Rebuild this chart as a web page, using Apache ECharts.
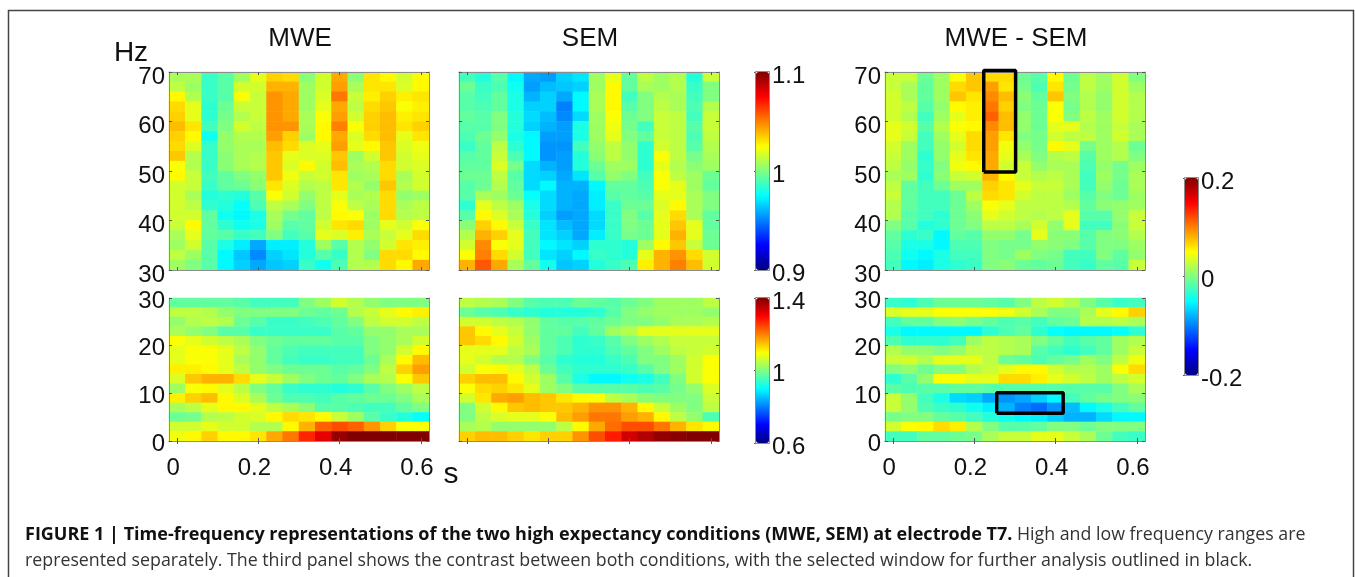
<!DOCTYPE html>
<html>
<head>
<meta charset="utf-8">
<title>Time-frequency representations</title>
<script src="https://cdn.jsdelivr.net/npm/echarts@6/dist/echarts.min.js"></script>
<style>
  html, body { margin: 0; padding: 0; background: #fff; }
  #chart { width: 1355px; height: 577px; }
</style>
</head>
<body>
<div id="chart"></div>
<script>
// Time labels shared by all panels (one column every 0.04 s)
const times = ['0', '0.04', '0.08', '0.12', '0.16', '0.2', '0.24', '0.28', '0.32', '0.36', '0.4', '0.44', '0.48', '0.52', '0.56', '0.6'];
const highRows = ['70', '68', '66', '64', '62', '60', '58', '56', '54', '52', '50', '48', '46', '44', '42', '40', '38', '36', '34', '32'];
const lowRows = ['30', '28', '26', '24', '22', '20', '18', '16', '14', '12', '10', '8', '6', '4', '2'];

// Colour bar ranges and their tick labels
const rangeHigh = [0.9, 1.1];
const rangeLow = [0.6, 1.4];
const rangeDiff = [-0.2, 0.2];
const ticksHigh = [0.9, 1, 1.1];
const ticksLow = [0.6, 1, 1.4];
const ticksDiff = [-0.2, 0, 0.2];

// First row is the top of the panel.
const mweHigh = [
  [54,54,43,46,53,60,67,66,51,58,71,51,65,63,58,63],
  [56,53,43,46,58,58,70,70,53,58,72,54,65,65,59,63],
  [63,55,43,46,62,57,73,71,53,59,76,57,64,67,64,65],
  [66,60,42,48,57,57,73,71,53,60,71,56,66,68,62,64],
  [67,60,42,49,55,57,73,71,54,62,72,58,67,69,64,65],
  [69,65,44,50,58,56,73,73,54,63,75,62,67,69,65,67],
  [67,63,39,52,55,55,72,67,53,63,71,59,66,69,60,65],
  [66,59,43,52,54,54,69,66,59,60,72,60,63,68,59,61],
  [68,55,43,51,54,55,68,60,59,59,68,53,58,68,58,60],
  [62,55,43,51,54,55,68,59,63,58,69,54,55,66,58,59],
  [63,57,44,47,50,52,68,61,57,58,65,53,54,66,54,58],
  [58,57,43,47,48,51,65,59,55,56,65,55,52,68,55,58],
  [58,54,41,42,41,46,62,58,52,56,60,54,55,66,52,53],
  [58,56,42,41,38,45,56,54,50,56,62,56,54,66,54,56],
  [58,58,47,39,37,40,54,49,47,56,63,62,53,66,55,56],
  [57,63,47,42,39,40,53,46,47,58,65,66,53,60,58,62],
  [54,60,47,46,43,44,50,44,46,60,59,64,54,57,60,66],
  [53,58,46,40,36,29,36,36,41,53,46,55,52,58,65,64],
  [56,53,46,37,32,26,33,35,41,46,43,55,50,66,66,63],
  [53,50,46,37,33,29,32,33,43,39,45,55,55,66,63,71]
];
const semHigh = [
  [44,41,46,37,29,28,33,35,53,60,47,56,53,55,41,57],
  [48,43,45,39,28,31,32,33,53,63,47,54,53,55,43,50],
  [46,44,47,40,30,33,29,37,54,63,44,50,55,54,44,50],
  [46,45,47,40,33,33,25,37,54,63,46,50,56,54,45,55],
  [47,46,50,41,34,31,26,34,53,62,48,50,57,56,44,57],
  [46,46,50,41,33,30,28,40,53,61,49,44,57,56,46,57],
  [45,48,52,40,37,28,28,40,53,60,50,47,57,56,45,56],
  [43,47,56,42,37,27,27,44,52,56,52,42,58,56,46,55],
  [46,47,57,45,37,27,28,41,51,56,52,42,62,56,49,54],
  [47,47,59,49,34,30,28,41,48,53,53,42,60,55,51,53],
  [48,48,56,46,34,33,29,35,46,52,50,44,62,56,53,48],
  [46,48,55,47,34,37,30,30,37,47,47,45,62,60,53,47],
  [46,54,53,48,38,34,30,29,36,46,47,46,60,60,54,50],
  [42,60,56,53,40,34,30,29,36,43,48,48,59,63,54,50],
  [46,63,59,54,41,33,28,29,34,43,50,46,60,66,54,47],
  [51,67,63,57,43,35,31,29,34,43,50,48,60,68,60,47],
  [55,70,67,60,44,35,33,29,36,43,49,48,60,70,60,48],
  [58,74,62,60,44,37,35,33,42,42,41,53,63,68,57,48],
  [62,75,66,58,44,35,33,37,43,42,41,60,70,73,66,58],
  [70,79,71,54,47,39,32,33,41,43,45,64,70,75,69,58]
];
const diffHigh = [
  [57,57,48,53,62,68,66,66,48,46,63,48,56,53,58,50],
  [57,54,47,53,66,68,72,65,49,45,65,49,56,53,58,53],
  [58,54,47,53,68,65,74,69,51,47,68,50,55,52,58,55],
  [58,56,46,52,63,64,76,67,50,48,62,49,55,52,58,55],
  [58,55,44,53,60,64,78,69,52,48,62,50,56,53,58,55],
  [60,58,46,55,62,63,74,69,52,48,60,60,55,53,57,54],
  [60,57,44,53,60,66,72,65,50,49,58,56,56,53,58,54],
  [58,53,44,52,58,66,72,61,52,49,63,60,49,53,55,48],
  [57,53,42,52,60,65,71,60,54,50,55,56,46,53,55,50],
  [56,52,43,50,61,63,71,58,57,52,54,54,45,52,49,53],
  [54,53,42,51,57,58,70,63,57,55,56,54,44,53,49,54],
  [56,47,44,48,53,53,67,65,60,57,57,54,44,52,48,54],
  [57,47,44,44,48,56,66,65,58,56,56,53,46,50,48,53],
  [55,47,44,44,48,53,62,60,56,56,56,55,47,51,52,53],
  [55,46,44,42,48,51,60,58,56,55,56,60,46,46,52,57],
  [50,46,41,42,48,50,56,56,54,58,52,60,44,44,51,57],
  [47,42,43,37,47,46,52,52,49,60,51,51,46,50,51,55],
  [46,40,40,37,45,45,50,49,49,52,51,50,46,50,50,53],
  [45,39,37,40,44,44,50,49,53,50,49,44,44,50,47,52],
  [44,37,36,40,42,43,50,51,48,47,48,44,43,47,46,57]
];
const mweLow = [
  [47,47,47,47,46,44,44,44,50,53,58,55,52,50,50,50],
  [56,56,55,52,50,50,50,50,48,47,48,55,57,60,63,64],
  [52,55,56,55,48,46,43,43,44,45,47,50,56,58,58,56],
  [54,52,50,46,46,43,43,43,43,43,46,47,52,52,54,54],
  [62,60,58,56,54,50,48,47,47,47,46,46,50,52,54,58],
  [60,62,62,60,56,52,47,45,44,44,44,44,50,52,58,63],
  [60,62,62,60,54,52,47,44,43,43,44,44,48,54,63,69],
  [64,64,63,60,56,52,50,48,48,48,46,47,50,56,67,72],
  [59,68,70,70,66,60,57,53,50,48,47,50,54,55,62,68],
  [53,62,63,60,56,50,47,43,42,42,41,42,46,50,53,56],
  [64,67,69,63,59,54,48,45,45,44,46,47,48,48,50,54],
  [54,56,60,63,63,60,56,54,51,46,46,45,44,44,47,50],
  [48,49,55,56,58,59,63,66,65,63,57,53,46,43,41,38],
  [58,58,60,58,58,55,55,63,70,78,80,78,73,67,62,62],
  [61,63,67,63,63,65,71,76,84,90,98,100,100,100,100,100]
];
const semLow = [
  [56,55,54,50,46,45,45,48,47,46,48,50,53,53,53,56],
  [48,46,45,43,42,41,41,41,42,46,50,52,53,53,53,52],
  [58,58,56,55,52,47,46,46,47,48,50,50,52,54,54,55],
  [68,63,60,57,52,47,47,44,47,53,55,60,60,60,60,60],
  [68,66,63,58,53,47,45,42,43,46,50,53,55,57,57,57],
  [60,60,60,56,54,47,45,42,42,45,47,50,53,56,57,58],
  [60,58,55,55,50,46,42,41,41,43,45,50,50,53,58,62],
  [58,62,63,60,56,48,44,42,42,42,43,46,50,53,58,62],
  [67,69,69,63,58,53,46,40,37,37,39,40,44,50,58,62],
  [62,66,67,65,60,53,50,46,46,46,46,45,46,49,52,59],
  [58,65,71,72,69,68,65,63,62,56,54,51,50,50,50,57],
  [50,58,63,68,69,68,68,70,73,73,70,63,57,53,50,56],
  [50,56,59,60,60,62,69,72,76,76,72,70,63,56,52,45],
  [54,55,52,52,52,52,56,63,71,77,80,80,76,70,65,63],
  [67,69,69,67,65,67,67,73,80,85,92,95,98,99,100,100]
];
const diffLow = [
  [43,42,45,48,48,48,47,46,50,56,58,55,50,46,43,44],
  [59,60,60,62,62,62,62,61,58,54,50,50,54,60,63,67],
  [44,47,47,50,51,49,47,45,46,44,47,48,55,55,56,54],
  [40,37,37,37,37,37,42,45,47,42,38,37,37,37,38,42],
  [45,42,42,42,44,53,56,55,54,50,47,44,46,47,53,55],
  [55,52,52,50,52,56,56,55,54,46,44,42,44,47,53,57],
  [57,58,55,60,60,60,56,48,47,45,47,49,53,50,56,61],
  [50,52,48,50,50,55,57,60,63,63,58,55,55,53,62,66],
  [42,46,52,62,62,60,60,66,66,64,60,58,56,53,56,58],
  [46,45,46,46,47,47,46,46,46,46,46,46,46,46,50,54],
  [57,52,44,40,34,33,29,27,29,33,37,44,47,49,50,51],
  [57,52,45,43,42,39,36,30,25,23,27,31,37,40,44,47],
  [49,50,50,47,46,44,41,39,37,36,33,30,30,34,37,37],
  [58,62,63,66,64,55,50,46,46,47,50,50,48,50,50,50],
  [44,44,47,47,48,49,54,57,57,60,60,57,54,48,44,43]
];

// Selected analysis windows: [time, Hz] corners
const windowHigh = [[0.223, 49.8], [0.223, 70.3], [0.3015, 70.3], [0.3015, 49.8], [0.223, 49.8]];
const windowLow = [[0.255, 5.8], [0.255, 10.1], [0.4186, 10.1], [0.4186, 5.8], [0.255, 5.8]];

const jet = ['#000080', '#0000ff', '#0080ff', '#00ffff', '#80ff80', '#ffff00', '#ff8000', '#ff0000', '#800000'];
const axisGrey = '#8c8c8c';
const labelFont = 'Liberation Sans';

const panels = [
  { left: 169, top: 72, height: 198, rows: highRows, values: mweHigh, range: rangeHigh, hz: [30, 70], yLabels: true, xLabels: false, labelDrop: 5 },
  { left: 459, top: 72, height: 198, rows: highRows, values: semHigh, range: rangeHigh, hz: [30, 70], yLabels: false, xLabels: false, labelDrop: 5 },
  { left: 885, top: 72, height: 198, rows: highRows, values: diffHigh, range: rangeDiff, hz: [30, 70], yLabels: true, xLabels: false, labelDrop: 5, box: windowHigh },
  { left: 169, top: 298, height: 143, rows: lowRows, values: mweLow, range: rangeLow, hz: [0, 30], yLabels: true, xLabels: true, labelDrop: 3 },
  { left: 459, top: 298, height: 143, rows: lowRows, values: semLow, range: rangeLow, hz: [0, 30], yLabels: false, xLabels: false, labelDrop: 3 },
  { left: 885, top: 298, height: 143, rows: lowRows, values: diffLow, range: rangeDiff, hz: [0, 30], yLabels: true, xLabels: true, labelDrop: 3, box: windowLow }
];
const colorBars = [
  { left: 756, top: 72, height: 198, range: rangeHigh, ticks: ticksHigh, series: [0, 1] },
  { left: 756, top: 298, height: 145, range: rangeLow, ticks: ticksLow, series: [3, 4] },
  { left: 1185, top: 178, height: 197, range: rangeDiff, ticks: ticksDiff, series: [2, 5] }
];

const grids = [];
const xAxes = [];
const yAxes = [];
const heatSeries = [];
const boxSeries = [];

const tickStyle = { show: true, inside: true, length: 3, lineStyle: { color: '#555', width: 1 } };
const lineStyle = { show: true, lineStyle: { color: axisGrey, width: 1 } };
const numberLabel = { fontFamily: labelFont, fontSize: 24, color: '#111' };
// labels sit a little below their tick in the original
const dropped = px => ({ verticalAlign: 'top', lineHeight: px * 2 });

panels.forEach((p, i) => {
  grids.push({ left: p.left, top: p.top, width: 260, height: p.height, show: false });

  const xBase = xAxes.length;
  const yBase = yAxes.length;
  // bottom axis carries the cells, top axis only repeats the ticks, third one is for the window outline
  xAxes.push({
    gridIndex: i, type: 'category', position: 'bottom', data: times, z: 5,
    axisLine: lineStyle,
    axisTick: { ...tickStyle, alignWithLabel: true, interval: 4 },
    axisLabel: { show: p.xLabels, interval: 4, margin: 15, padding: [0, 8, 0, 0], ...numberLabel }
  });
  xAxes.push({
    gridIndex: i, type: 'category', position: 'top', data: times, z: 5,
    axisLine: lineStyle,
    axisTick: { ...tickStyle, alignWithLabel: true, interval: 4 },
    axisLabel: { show: false }
  });
  xAxes.push({ gridIndex: i, type: 'value', min: -0.02, max: 0.62, show: false });

  yAxes.push({ gridIndex: i, type: 'category', data: p.rows.slice().reverse(), show: false });
  yAxes.push({
    gridIndex: i, type: 'value', position: 'left', min: p.hz[0], max: p.hz[1], interval: 10, z: 5,
    splitLine: { show: false },
    axisLine: lineStyle,
    axisTick: tickStyle,
    axisLabel: { show: p.yLabels, margin: 4, ...dropped(p.labelDrop), ...numberLabel }
  });
  yAxes.push({
    gridIndex: i, type: 'value', position: 'right', min: p.hz[0], max: p.hz[1], interval: 10, z: 5,
    splitLine: { show: false },
    axisLine: lineStyle,
    axisTick: tickStyle,
    axisLabel: { show: false }
  });

  const [lo, hi] = p.range;
  const cells = [];
  p.values.forEach((row, r) => {
    row.forEach((level, c) => {
      cells.push([c, p.rows.length - 1 - r, lo + (hi - lo) * level / 100]);
    });
  });
  heatSeries.push({
    type: 'heatmap', xAxisIndex: xBase, yAxisIndex: yBase, data: cells, silent: true,
    itemStyle: { borderWidth: 0 }, emphasis: { disabled: true }
  });

  if (p.box) {
    boxSeries.push({
      type: 'line', xAxisIndex: xBase + 2, yAxisIndex: yBase + 1, data: p.box, z: 6,
      clip: false, silent: true, symbol: 'none', lineStyle: { color: '#000', width: 3.5 }
    });
  }
});

const visualMaps = colorBars.map(b => {
  const g = grids.length;
  grids.push({ left: b.left, top: b.top, width: 13, height: b.height, show: false });
  xAxes.push({ gridIndex: g, type: 'value', min: 0, max: 1, show: false });
  yAxes.push({
    gridIndex: g, type: 'value', position: 'right', min: b.range[0], max: b.range[1], z: 5,
    splitLine: { show: false },
    axisLine: { show: false },
    axisTick: { ...tickStyle, length: 2, customValues: b.ticks },
    axisLabel: { customValues: b.ticks, margin: 3, ...dropped(4), ...numberLabel }
  });
  return {
    type: 'continuous', seriesIndex: b.series, min: b.range[0], max: b.range[1],
    left: b.left, top: b.top, itemWidth: 13, itemHeight: b.height, padding: 0,
    calculable: false, hoverLink: false, inRange: { color: jet }
  };
});

const heading = (text, x, y, size) => ({
  type: 'text', x, y,
  style: { text, fontFamily: labelFont, fontSize: size, fill: '#111', align: 'center', verticalAlign: 'middle' }
});
const barOutlines = colorBars.map(b => ({
  type: 'rect', z: 10,
  shape: { x: b.left - 0.5, y: b.top - 0.5, width: 14, height: b.height + 1 },
  style: { fill: 'none', stroke: axisGrey, lineWidth: 1 }
}));

const chart = echarts.init(document.getElementById('chart'), null, { renderer: 'canvas' });
chart.setOption({
  animation: false,
  backgroundColor: '#fff',
  grid: grids,
  xAxis: xAxes,
  yAxis: yAxes,
  visualMap: visualMaps,
  series: heatSeries.concat(boxSeries),
  graphic: [
    { type: 'rect', shape: { x: 8.5, y: 10.5, width: 1345, height: 620 }, style: { fill: 'none', stroke: '#444', lineWidth: 1.5 } },
    ...barOutlines,
    heading('MWE', 300, 39, 26),
    heading('SEM', 590, 39, 26),
    heading('MWE - SEM', 1016, 39, 26),
    heading('Hz', 131, 53, 28),
    heading('s', 451, 475, 30),
    {
      type: 'text', x: 25, y: 535,
      style: {
        text: '{b|FIGURE 1 | Time-frequency representations of the two high expectancy conditions (MWE, SEM) at electrode T7.}{n| High and low frequency ranges are}',
        verticalAlign: 'middle',
        rich: {
          b: { fontFamily: 'Open Sans', fontSize: 18, fontWeight: 'bold', fill: '#111' },
          n: { fontFamily: 'Open Sans', fontSize: 17.8, fill: '#333' }
        }
      }
    },
    {
      type: 'text', x: 25, y: 561,
      style: {
        text: 'represented separately. The third panel shows the contrast between both conditions, with the selected window for further analysis outlined in black.',
        fontFamily: 'Open Sans', fontSize: 17.8, fill: '#333', verticalAlign: 'middle'
      }
    }
  ]
});
</script>
</body>
</html>
